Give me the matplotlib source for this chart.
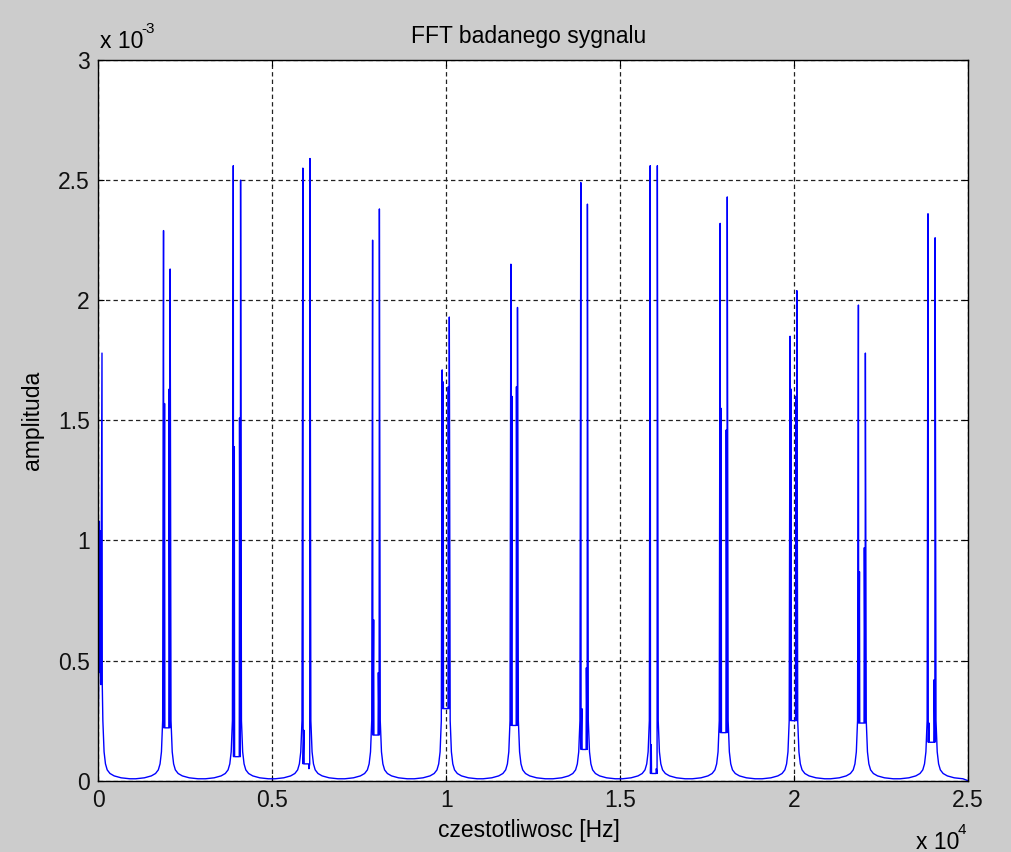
import matplotlib
matplotlib.use("Agg")
import matplotlib.pyplot as plt
import numpy as np

plt.rcParams['font.family'] = ['Liberation Sans', 'DejaVu Sans']

# dane (amplituda w jednostkach 1e-3)
# skupisko przy 0 Hz
zero_freq = [0, 8, 30, 42, 60, 72, 106, 114]
zero_amp = [0.25, 0.37, 1.08, 0.45, 1.04, 0.40, 1.78, 0.40]

# pozostale skupiska (co 2 kHz)
left_freq = [1875, 3880, 5880, 7885, 9885, 11860, 13870, 15865, 17875, 19885, 21850, 23850]
right_freq = [2065, 4090, 6085, 8080, 10090, 12050, 14060, 16070, 18080, 20080, 22050, 24055]
left_main = [2.29, 2.56, 2.55, 2.25, 1.71, 2.15, 2.49, 2.56, 2.32, 1.85, 1.98, 2.36]
left_side = [1.57, 1.39, 0.21, 0.67, 1.66, 1.60, 0.30, 0.15, 1.55, 1.63, 0.87, 0.24]
right_main = [2.13, 2.50, 2.59, 2.38, 1.93, 1.97, 2.40, 2.56, 2.43, 2.04, 1.78, 2.26]
right_side = [1.63, 1.51, 0.05, 0.45, 1.64, 1.64, 0.47, 0.05, 1.46, 1.60, 0.97, 0.42]
inner_dip = [0.22, 0.10, 0.07, 0.19, 0.30, 0.23, 0.13, 0.03, 0.20, 0.25, 0.24, 0.16]

# zbocza po obu stronach prazkow (odleglosc od prazka [Hz], amplituda)
skirt_gap = [25, 60, 100, 150, 230, 350, 550, 800]
skirt_amp = [0.25, 0.12, 0.07, 0.045, 0.03, 0.02, 0.012, 0.008]

end_freq = 25000
end_amp = 0.0

# sklejanie przebiegu
freq = list(zero_freq)
amp = list(zero_amp)
for g, a in zip(skirt_gap, skirt_amp):
    freq.append(zero_freq[-2] + g)
    amp.append(a)

for i in range(len(left_freq)):
    lf, rf = left_freq[i], right_freq[i]
    for g, a in zip(skirt_gap[::-1], skirt_amp[::-1]):
        freq.append(lf - g)
        amp.append(a)
    freq += [lf, lf + 8, lf + 30, lf + 38, rf - 38, rf - 30, rf - 8, rf]
    amp += [left_main[i], inner_dip[i], left_side[i], inner_dip[i],
            inner_dip[i], right_side[i], inner_dip[i], right_main[i]]
    for g, a in zip(skirt_gap, skirt_amp):
        freq.append(rf + g)
        amp.append(a)

freq.append(end_freq)
amp.append(end_amp)

freq = np.array(freq)
amp = np.array(amp) * 1e-3

fig = plt.figure(figsize=(10.12, 8.52), dpi=100)
fig.patch.set_facecolor('#cccccc')
ax = fig.add_axes([98.3 / 1012, 1 - 780.7 / 852, (968 - 98.3) / 1012, (780.7 - 60) / 852])
ax.set_facecolor('white')

ax.plot(freq, amp, color='#0000ff', lw=1.0)

ax.set_xlim(0, 25000)
ax.set_ylim(0, 3e-3)
ax.set_xticks([0, 5000, 10000, 15000, 20000, 25000])
ax.set_xticklabels(['0', '0.5', '1', '1.5', '2', '2.5'])
ax.set_yticks([0, 0.5e-3, 1e-3, 1.5e-3, 2e-3, 2.5e-3, 3e-3])
ax.set_yticklabels(['0', '0.5', '1', '1.5', '2', '2.5', '3'])
ax.tick_params(direction='in', length=4, width=0.8, labelsize=16.5, pad=6,
               top=True, right=True, colors='black', labelcolor='#111111')
ax.grid(True, color='#222222', lw=0.9, linestyle=(0, (3.5, 2.5)))
for s in ax.spines.values():
    s.set_color('black')
    s.set_linewidth(1.0)

fig.text(529 / 1012, 1 - 36 / 852, 'FFT badanego sygnalu', ha='center', va='center', fontsize=16.5)
fig.text(529 / 1012, 1 - 830 / 852, 'czestotliwosc [Hz]', ha='center', va='center', fontsize=16.5)
fig.text(33 / 1012, 1 - 420 / 852, 'amplituda', ha='center', va='center', rotation=90, fontsize=16.5)

# mnozniki osi
fig.text(100 / 1012, 1 - 48 / 852, 'x 10', ha='left', va='baseline', fontsize=16.5)
fig.text(141 / 1012, 1 - 33 / 852, '-3', ha='left', va='baseline', fontsize=11)
fig.text(916 / 1012, 1 - 849 / 852, 'x 10', ha='left', va='baseline', fontsize=16.5)
fig.text(958 / 1012, 1 - 834 / 852, '4', ha='left', va='baseline', fontsize=11)

fig.savefig('out.png', dpi=100, facecolor=fig.get_facecolor())
